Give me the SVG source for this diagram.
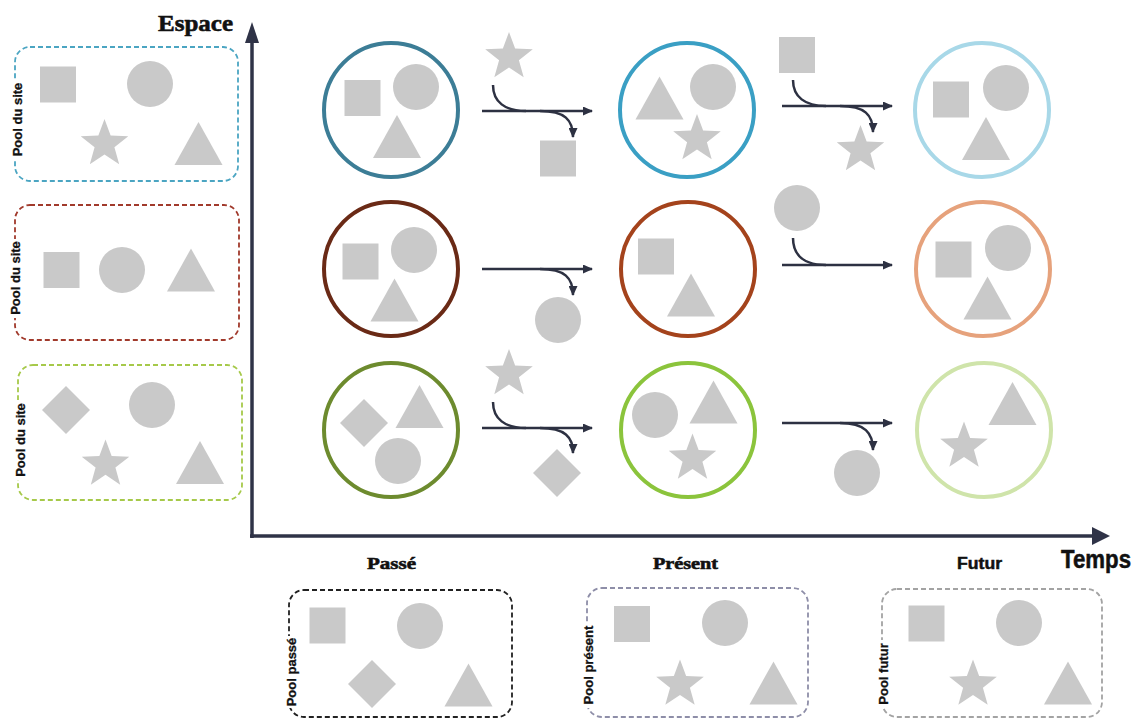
<svg xmlns="http://www.w3.org/2000/svg" xmlns:xlink="http://www.w3.org/1999/xlink" width="1139" height="720" viewBox="0 0 1139 720">
<style>
.sh{fill:#c9c9c9}
.ring{fill:none;stroke-width:4}
.pool{fill:none;stroke-width:1.8;stroke-dasharray:5 3}
.lbl{font-family:"Liberation Sans",Arial,sans-serif;font-weight:bold;font-size:13px;fill:#111;stroke:#111;stroke-width:0.3}
.ax{font-family:"Liberation Serif","Times New Roman",serif;font-weight:bold;fill:#111;stroke:#111;stroke-width:0.6}
.axs{font-family:"Liberation Sans",Arial,sans-serif;font-weight:bold;fill:#111;stroke:#111;stroke-width:0.5}
.cn{fill:none;stroke:#2d3142;stroke-width:2.5}
</style>
<defs>
<path id="star" d="M0,-25 L6.13,-8.43 L23.78,-7.73 L9.91,3.22 L14.69,20.23 L0,10.42 L-14.69,20.23 L-9.91,3.22 L-23.78,-7.73 L-6.13,-8.43 Z"/>
<rect id="sq" x="-18" y="-18" width="36" height="36"/>
<circle id="ci" r="23"/>
<path id="tri" d="M0,-21.5 L24,21.5 L-24,21.5 Z"/>
<path id="dia" d="M0,-24 L24,0 L0,24 L-24,0 Z"/>
<marker id="ah" markerUnits="userSpaceOnUse" markerWidth="10" markerHeight="9" refX="9" refY="4.5" orient="auto">
<path d="M0,0 L10,4.5 L0,9 Z" fill="#2d3142"/>
</marker>
</defs>
<rect width="1139" height="720" fill="#ffffff"/>

<g id="axes">
<line x1="252" y1="538" x2="252" y2="40" stroke="#2f3347" stroke-width="3.5"/>
<polygon points="245,43 252,22 259,43" fill="#2f3347"/>
<line x1="250" y1="536" x2="1094" y2="536" stroke="#2f3347" stroke-width="3.5"/>
<polygon points="1092,527 1110,536 1092,545" fill="#2f3347"/>
<text class="ax" x="158" y="31" font-size="24" textLength="75" lengthAdjust="spacingAndGlyphs">Espace</text>
<text class="axs" x="1061" y="568" font-size="25" textLength="70" lengthAdjust="spacingAndGlyphs">Temps</text>
<text class="ax" x="367" y="569" font-size="17" textLength="49" lengthAdjust="spacingAndGlyphs">Passé</text>
<text class="ax" x="653" y="569" font-size="17" textLength="65" lengthAdjust="spacingAndGlyphs">Présent</text>
<text class="axs" x="957" y="569" font-size="16" textLength="45" lengthAdjust="spacingAndGlyphs">Futur</text>
</g>

<g id="pool-site-1">
<rect class="pool" x="15" y="47" width="223" height="134" rx="15" stroke="#4ba5c2"/>
<rect x="11" y="79" width="13" height="80" fill="#fff"/>
<text class="lbl" transform="translate(22,119.5) rotate(-90)" text-anchor="middle">Pool du site</text>
<use href="#sq" class="sh" x="58" y="84.5"/>
<use href="#ci" class="sh" x="150" y="84"/>
<use href="#star" class="sh" x="104.5" y="144"/>
<use href="#tri" class="sh" x="198.5" y="143.5"/>
</g>

<g id="pool-site-2">
<rect class="pool" x="15" y="205" width="224" height="135" rx="15" stroke="#a13a2c"/>
<rect x="9" y="239" width="13" height="79" fill="#fff"/>
<text class="lbl" transform="translate(20,278) rotate(-90)" text-anchor="middle">Pool du site</text>
<use href="#sq" class="sh" x="61.5" y="270"/>
<use href="#ci" class="sh" x="122" y="270"/>
<use href="#tri" class="sh" x="191" y="270"/>
</g>

<g id="pool-site-3">
<rect class="pool" x="18" y="365" width="224" height="135" rx="15" stroke="#a6c94a"/>
<rect x="13" y="400" width="14" height="80" fill="#fff"/>
<text class="lbl" transform="translate(25,440) rotate(-90)" text-anchor="middle">Pool du site</text>
<use href="#dia" class="sh" x="66" y="410"/>
<use href="#ci" class="sh" x="152" y="405"/>
<use href="#star" class="sh" x="105.5" y="464.4"/>
<use href="#tri" class="sh" x="200" y="462.5"/>
</g>

<g id="pool-passe">
<rect class="pool" x="289" y="590" width="223" height="127" rx="15" stroke="#222"/>
<rect x="283" y="636" width="14" height="72" fill="#fff"/>
<text class="lbl" transform="translate(296,672) rotate(-90)" text-anchor="middle">Pool passé</text>
<use href="#sq" class="sh" x="327.5" y="625.5"/>
<use href="#ci" class="sh" x="420" y="626"/>
<use href="#dia" class="sh" x="372" y="684"/>
<use href="#tri" class="sh" x="468.5" y="685"/>
</g>

<g id="pool-present">
<rect class="pool" x="587" y="588" width="221" height="129" rx="15" stroke="#8e8ea8"/>
<rect x="581" y="622" width="15" height="86" fill="#fff"/>
<text class="lbl" transform="translate(593,665) rotate(-90)" text-anchor="middle">Pool présent</text>
<use href="#sq" class="sh" x="632" y="624"/>
<use href="#ci" class="sh" x="725" y="623"/>
<use href="#star" class="sh" x="680" y="684.5"/>
<use href="#tri" class="sh" x="773.5" y="683"/>
</g>

<g id="pool-futur">
<rect class="pool" x="882" y="589" width="220" height="128" rx="15" stroke="#a3a3a3"/>
<rect x="876" y="640" width="14" height="68" fill="#fff"/>
<text class="lbl" transform="translate(888,674) rotate(-90)" text-anchor="middle">Pool futur</text>
<use href="#sq" class="sh" x="926.5" y="623.5"/>
<use href="#ci" class="sh" x="1019" y="623"/>
<use href="#star" class="sh" x="973" y="684.5"/>
<use href="#tri" class="sh" x="1068" y="683"/>
</g>

<!-- Row 1 -->
<g id="r1-past">
<circle class="ring" cx="391" cy="110" r="67" stroke="#3c7d96"/>
<use href="#sq" class="sh" x="362.5" y="98"/>
<use href="#ci" class="sh" x="416" y="87"/>
<use href="#tri" class="sh" x="397" y="136.5"/>
</g>
<g id="r1-in1"><use href="#star" class="sh" x="509" y="57"/></g>
<g id="r1-out1"><use href="#sq" class="sh" x="558" y="158.5"/></g>
<g id="r1-present">
<circle class="ring" cx="687" cy="110" r="67" stroke="#3a9fc4"/>
<use href="#tri" class="sh" x="659.5" y="98"/>
<use href="#ci" class="sh" x="713" y="87"/>
<use href="#star" class="sh" x="697" y="139"/>
</g>
<g id="r1-in2"><use href="#sq" class="sh" x="797" y="55"/></g>
<g id="r1-out2"><use href="#star" class="sh" x="860.5" y="150"/></g>
<g id="r1-futur">
<circle class="ring" cx="982" cy="110" r="67" stroke="#a8d8e8"/>
<use href="#sq" class="sh" x="951" y="99.5"/>
<use href="#ci" class="sh" x="1006" y="88"/>
<use href="#tri" class="sh" x="986" y="138.5"/>
</g>

<!-- Row 2 -->
<g id="r2-past">
<circle class="ring" cx="391" cy="269" r="67" stroke="#6a2a16"/>
<use href="#sq" class="sh" x="360.5" y="261.5"/>
<use href="#ci" class="sh" x="414" y="250"/>
<use href="#tri" class="sh" x="394.5" y="300"/>
</g>
<g id="r2-out1"><use href="#ci" class="sh" x="558" y="320"/></g>
<g id="r2-present">
<circle class="ring" cx="688" cy="269" r="67" stroke="#a4431c"/>
<use href="#sq" class="sh" x="656" y="256.5"/>
<use href="#tri" class="sh" x="691" y="295"/>
</g>
<g id="r2-in2"><use href="#ci" class="sh" x="797" y="208"/></g>
<g id="r2-futur">
<circle class="ring" cx="983" cy="269" r="67" stroke="#e6a27c"/>
<use href="#sq" class="sh" x="953.5" y="259.5"/>
<use href="#ci" class="sh" x="1008" y="248"/>
<use href="#tri" class="sh" x="987.5" y="298"/>
</g>

<!-- Row 3 -->
<g id="r3-past">
<circle class="ring" cx="391" cy="430" r="67" stroke="#6d8b2e"/>
<use href="#dia" class="sh" x="364" y="423"/>
<use href="#tri" class="sh" x="419.5" y="406.5"/>
<use href="#ci" class="sh" x="398" y="461"/>
</g>
<g id="r3-in1"><use href="#star" class="sh" x="509" y="374"/></g>
<g id="r3-out1"><use href="#dia" class="sh" x="557" y="473"/></g>
<g id="r3-present">
<circle class="ring" cx="688" cy="430" r="67" stroke="#8bc43c"/>
<use href="#ci" class="sh" x="655" y="415"/>
<use href="#tri" class="sh" x="713.5" y="402"/>
<use href="#star" class="sh" x="692.5" y="458.5"/>
</g>
<g id="r3-out2"><use href="#ci" class="sh" x="857" y="473"/></g>
<g id="r3-futur">
<circle class="ring" cx="984" cy="430" r="67" stroke="#cfe4aa"/>
<use href="#tri" class="sh" x="1012.5" y="403.5"/>
<use href="#star" class="sh" x="964" y="446.5"/>
</g>

<g id="connectors">
<!-- row 1 -->
<path class="cn" d="M482,111 L592,111" marker-end="url(#ah)"/>
<path class="cn" d="M493,85 C493,102 505,111 526,111"/>
<path class="cn" d="M540,111 C565,111 573,120 573,137" marker-end="url(#ah)"/>
<path class="cn" d="M782,106 L892,106" marker-end="url(#ah)"/>
<path class="cn" d="M793,80 C793,97 805,106 826,106"/>
<path class="cn" d="M840,106 C865,106 873,115 873,132" marker-end="url(#ah)"/>
<!-- row 2 -->
<path class="cn" d="M482,269 L592,269" marker-end="url(#ah)"/>
<path class="cn" d="M540,269 C565,269 573,278 573,295" marker-end="url(#ah)"/>
<path class="cn" d="M782,265 L892,265" marker-end="url(#ah)"/>
<path class="cn" d="M793,238 C793,256 805,265 826,265"/>
<!-- row 3 -->
<path class="cn" d="M482,428 L592,428" marker-end="url(#ah)"/>
<path class="cn" d="M493,402 C493,419 505,428 526,428"/>
<path class="cn" d="M540,428 C565,428 573,437 573,453" marker-end="url(#ah)"/>
<path class="cn" d="M782,423 L892,423" marker-end="url(#ah)"/>
<path class="cn" d="M840,423 C865,423 873,433 873,450" marker-end="url(#ah)"/>
</g>
</svg>
